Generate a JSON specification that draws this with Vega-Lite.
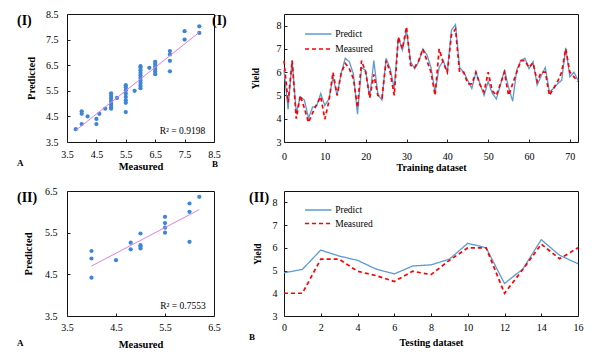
{
  "$schema": "https://vega.github.io/schema/vega-lite/v6.json",
  "padding": {"left": 16, "top": 8, "right": 5, "bottom": 5},
  "background": "white",
  "config": {
    "font": "Liberation Serif",
    "view": {"stroke": "#111", "strokeWidth": 1},
    "axis": {
      "grid": false, "domain": false, "tickSize": -3, "tickColor": "#222", "labelFlush": false, "labelOverlap": false,
      "labelFont": "Liberation Serif", "labelFontSize": 10, "labelColor": "#000",
      "titleFont": "Liberation Serif", "titleFontSize": 10.5, "titleFontWeight": "bold", "titleColor": "#000"
    },
    "title": {"font": "Liberation Serif", "fontSize": 14, "fontWeight": "bold", "color": "#000",
      "subtitleFont": "Liberation Serif", "subtitleFontSize": 9, "subtitleFontWeight": "bold", "subtitleColor": "#000",
      "anchor": "start", "frame": "group", "orient": "top"},
    "legend": {"labelFont": "Liberation Serif", "labelFontSize": 9.5, "labelColor": "#000"}
  },
  "columns": 2,
  "spacing": {"row": 49, "column": 70},
  "bounds": "flush",
  "align": "each",
  "resolve": {
    "scale": {"color": "independent", "strokeDash": "independent", "strokeWidth": "independent"},
    "legend": {"color": "independent", "strokeDash": "independent"}
  },
  "concat": [
    {
      "width": 147, "height": 128,
      "title": {"text": "(I)", "subtitle": "A", "dx": -50, "offset": -159, "subtitlePadding": 131},
      "layer": [
        {
          "data": {"name": "scatter1", "values": [
            {"measured": 3.8, "predicted": 4.0},
            {"measured": 4.0, "predicted": 4.7}, {"measured": 4.0, "predicted": 4.6}, {"measured": 4.0, "predicted": 4.2},
            {"measured": 4.2, "predicted": 4.5},
            {"measured": 4.5, "predicted": 4.4}, {"measured": 4.5, "predicted": 4.2},
            {"measured": 4.6, "predicted": 4.6},
            {"measured": 4.8, "predicted": 4.8},
            {"measured": 5.0, "predicted": 5.4}, {"measured": 5.0, "predicted": 5.3}, {"measured": 5.0, "predicted": 5.2}, {"measured": 5.0, "predicted": 5.1},
            {"measured": 5.0, "predicted": 5.0}, {"measured": 5.0, "predicted": 4.95}, {"measured": 5.0, "predicted": 4.85}, {"measured": 5.0, "predicted": 4.8},
            {"measured": 5.2, "predicted": 5.22},
            {"measured": 5.5, "predicted": 5.72}, {"measured": 5.5, "predicted": 5.63}, {"measured": 5.5, "predicted": 5.52}, {"measured": 5.5, "predicted": 5.39},
            {"measured": 5.5, "predicted": 5.26}, {"measured": 5.5, "predicted": 5.13}, {"measured": 5.5, "predicted": 5.03}, {"measured": 5.5, "predicted": 4.67},
            {"measured": 5.8, "predicted": 5.5},
            {"measured": 6.0, "predicted": 6.46}, {"measured": 6.0, "predicted": 6.4}, {"measured": 6.0, "predicted": 6.3}, {"measured": 6.0, "predicted": 6.2},
            {"measured": 6.0, "predicted": 6.1}, {"measured": 6.0, "predicted": 6.0}, {"measured": 6.0, "predicted": 5.9}, {"measured": 6.0, "predicted": 5.8},
            {"measured": 6.0, "predicted": 5.7}, {"measured": 6.0, "predicted": 5.6},
            {"measured": 6.3, "predicted": 6.4},
            {"measured": 6.5, "predicted": 6.63}, {"measured": 6.5, "predicted": 6.55}, {"measured": 6.5, "predicted": 6.45}, {"measured": 6.5, "predicted": 6.35},
            {"measured": 6.5, "predicted": 6.25}, {"measured": 6.5, "predicted": 6.15},
            {"measured": 7.0, "predicted": 7.05}, {"measured": 7.0, "predicted": 6.92}, {"measured": 7.0, "predicted": 6.67}, {"measured": 7.0, "predicted": 6.26},
            {"measured": 7.5, "predicted": 7.83}, {"measured": 7.5, "predicted": 7.5},
            {"measured": 8.0, "predicted": 8.02}, {"measured": 8.0, "predicted": 7.76}
          ]},
          "mark": {"type": "circle", "size": 18, "color": "#3b86d8", "opacity": 1},
          "encoding": {
            "x": {"field": "measured", "type": "quantitative", "scale": {"domain": [3.5, 8.5], "nice": false, "zero": false},
              "axis": {"values": [3.5, 4.5, 5.5, 6.5, 7.5, 8.5], "tickCount": 12, "format": ".1f", "title": "Measured", "labelPadding": 10, "titlePadding": 2}},
            "y": {"field": "predicted", "type": "quantitative", "scale": {"domain": [3.5, 8.5], "nice": false, "zero": false},
              "axis": {"values": [3.5, 4.5, 5.5, 6.5, 7.5, 8.5], "tickCount": 12, "format": ".1f", "title": "Predicted", "labelPadding": 12, "titlePadding": 9}}
          }
        },
        {
          "data": {"name": "scatter1"},
          "transform": [{"regression": "predicted", "on": "measured"}],
          "mark": {"type": "line", "color": "#e37ee6", "strokeWidth": 1},
          "encoding": {
            "x": {"field": "measured", "type": "quantitative"},
            "y": {"field": "predicted", "type": "quantitative"}
          }
        },
        {
          "data": {"values": [{"label": "R² = 0.9198"}]},
          "mark": {"type": "text", "align": "right", "baseline": "alphabetic", "fontSize": 9.5, "color": "#000"},
          "encoding": {"text": {"field": "label"}, "x": {"datum": 8.2}, "y": {"datum": 3.8}}
        }
      ]
    },
    {
      "width": 294, "height": 128,
      "title": {"text": "(I)", "subtitle": "B", "dx": -72, "offset": -155, "subtitlePadding": 132},
      "data": {"values": [
        {"i": 0, "Predict": 6.1, "Measured": 6.5}, {"i": 1, "Predict": 4.4, "Measured": 4.7}, {"i": 2, "Predict": 6.5, "Measured": 6.5},
        {"i": 3, "Predict": 4.25, "Measured": 4.0}, {"i": 4, "Predict": 4.95, "Measured": 5.0}, {"i": 5, "Predict": 4.8, "Measured": 4.45},
        {"i": 6, "Predict": 4.02, "Measured": 3.84}, {"i": 7, "Predict": 4.5, "Measured": 4.25}, {"i": 8, "Predict": 4.55, "Measured": 4.62},
        {"i": 9, "Predict": 5.08, "Measured": 4.95}, {"i": 10, "Predict": 4.57, "Measured": 3.98}, {"i": 11, "Predict": 4.85, "Measured": 4.75},
        {"i": 12, "Predict": 5.8, "Measured": 6.0}, {"i": 13, "Predict": 5.0, "Measured": 5.0}, {"i": 14, "Predict": 5.95, "Measured": 5.95},
        {"i": 15, "Predict": 6.6, "Measured": 6.38}, {"i": 16, "Predict": 6.45, "Measured": 6.15}, {"i": 17, "Predict": 5.92, "Measured": 5.72},
        {"i": 18, "Predict": 4.2, "Measured": 4.48}, {"i": 19, "Predict": 6.2, "Measured": 6.5}, {"i": 20, "Predict": 6.08, "Measured": 6.0},
        {"i": 21, "Predict": 4.9, "Measured": 4.9}, {"i": 22, "Predict": 6.5, "Measured": 5.9}, {"i": 23, "Predict": 5.03, "Measured": 5.0},
        {"i": 24, "Predict": 4.8, "Measured": 4.9}, {"i": 25, "Predict": 6.6, "Measured": 6.5}, {"i": 26, "Predict": 6.15, "Measured": 6.0},
        {"i": 27, "Predict": 5.3, "Measured": 5.0}, {"i": 28, "Predict": 7.5, "Measured": 7.5}, {"i": 29, "Predict": 6.95, "Measured": 7.0},
        {"i": 30, "Predict": 7.8, "Measured": 7.95}, {"i": 31, "Predict": 6.45, "Measured": 6.3}, {"i": 32, "Predict": 6.15, "Measured": 6.2},
        {"i": 33, "Predict": 6.45, "Measured": 6.5}, {"i": 34, "Predict": 7.0, "Measured": 7.0}, {"i": 35, "Predict": 6.75, "Measured": 6.5},
        {"i": 36, "Predict": 6.2, "Measured": 6.0}, {"i": 37, "Predict": 5.15, "Measured": 5.0}, {"i": 38, "Predict": 6.2, "Measured": 7.0},
        {"i": 39, "Predict": 6.5, "Measured": 6.4}, {"i": 40, "Predict": 6.0, "Measured": 6.0}, {"i": 41, "Predict": 7.8, "Measured": 7.6},
        {"i": 42, "Predict": 8.05, "Measured": 7.85}, {"i": 43, "Predict": 6.2, "Measured": 6.0}, {"i": 44, "Predict": 6.0, "Measured": 6.0},
        {"i": 45, "Predict": 5.65, "Measured": 5.5}, {"i": 46, "Predict": 5.3, "Measured": 5.5}, {"i": 47, "Predict": 6.0, "Measured": 6.0},
        {"i": 48, "Predict": 5.5, "Measured": 5.45}, {"i": 49, "Predict": 5.0, "Measured": 5.15}, {"i": 50, "Predict": 5.6, "Measured": 6.0},
        {"i": 51, "Predict": 5.1, "Measured": 5.2}, {"i": 52, "Predict": 4.85, "Measured": 5.0}, {"i": 53, "Predict": 5.45, "Measured": 5.5},
        {"i": 54, "Predict": 6.1, "Measured": 6.0}, {"i": 55, "Predict": 5.35, "Measured": 5.0}, {"i": 56, "Predict": 4.75, "Measured": 5.5},
        {"i": 57, "Predict": 6.1, "Measured": 6.0}, {"i": 58, "Predict": 6.5, "Measured": 6.5}, {"i": 59, "Predict": 6.6, "Measured": 6.5},
        {"i": 60, "Predict": 6.15, "Measured": 6.2}, {"i": 61, "Predict": 6.45, "Measured": 6.4}, {"i": 62, "Predict": 5.45, "Measured": 5.6},
        {"i": 63, "Predict": 5.85, "Measured": 6.0}, {"i": 64, "Predict": 6.2, "Measured": 6.0}, {"i": 65, "Predict": 5.15, "Measured": 5.0},
        {"i": 66, "Predict": 5.3, "Measured": 5.3}, {"i": 67, "Predict": 5.5, "Measured": 5.6}, {"i": 68, "Predict": 5.65, "Measured": 6.0},
        {"i": 69, "Predict": 7.05, "Measured": 7.0}, {"i": 70, "Predict": 5.8, "Measured": 6.0}, {"i": 71, "Predict": 6.0, "Measured": 5.8},
        {"i": 72, "Predict": 5.65, "Measured": 5.6}
      ]},
      "transform": [{"fold": ["Predict", "Measured"], "as": ["series", "value"]}],
      "mark": {"type": "line"},
      "encoding": {
        "x": {"field": "i", "type": "quantitative", "scale": {"domain": [0, 72], "nice": false, "zero": false},
          "axis": {"values": [0, 10, 20, 30, 40, 50, 60, 70], "tickCount": 12, "format": "d", "title": "Training dataset", "titleFontSize": 10, "labelPadding": 12, "titlePadding": 1}},
        "y": {"field": "value", "type": "quantitative", "scale": {"domain": [3, 8.5], "nice": false, "zero": false},
          "axis": {"values": [3, 4, 5, 6, 7, 8], "tickCount": 12, "format": "d", "title": "Yield", "titleFontSize": 9.5, "labelPadding": 6, "titlePadding": 16}},
        "color": {"field": "series", "type": "nominal", "scale": {"domain": ["Predict", "Measured"], "range": ["#5b9bd5", "#ff0000"]},
          "legend": {"orient": "none", "legendX": 27.2, "legendY": 13, "title": null, "symbolType": "M-2.2,0H2.2", "symbolSize": 144, "labelOffset": 10, "rowPadding": 3, "symbolStrokeWidth": 1.5, "padding": 0}},
        "strokeDash": {"field": "series", "type": "nominal", "scale": {"domain": ["Predict", "Measured"], "range": [[1, 0], [4, 3]]},
          "legend": {"orient": "none", "legendX": 27.2, "legendY": 13, "title": null, "symbolType": "M-2.2,0H2.2", "symbolSize": 144, "labelOffset": 10, "rowPadding": 3, "symbolStrokeWidth": 1.5, "padding": 0}},
        "strokeWidth": {"field": "series", "type": "ordinal", "scale": {"domain": ["Predict", "Measured"], "range": [1.3, 1.7]}, "legend": null}
      }
    },
    {
      "width": 147, "height": 125,
      "title": {"text": "(II)", "subtitle": "A", "dx": -50, "offset": -162, "subtitlePadding": 134},
      "layer": [
        {
          "data": {"name": "scatter2", "values": [
            {"measured": 4.0, "predicted": 5.06}, {"measured": 4.0, "predicted": 4.88}, {"measured": 4.0, "predicted": 4.42},
            {"measured": 4.5, "predicted": 4.84},
            {"measured": 4.8, "predicted": 5.26}, {"measured": 4.8, "predicted": 5.1},
            {"measured": 5.0, "predicted": 5.48}, {"measured": 5.0, "predicted": 5.2}, {"measured": 5.0, "predicted": 5.16}, {"measured": 5.0, "predicted": 5.12},
            {"measured": 5.5, "predicted": 5.88}, {"measured": 5.5, "predicted": 5.73}, {"measured": 5.5, "predicted": 5.62}, {"measured": 5.5, "predicted": 5.5},
            {"measured": 6.0, "predicted": 6.2}, {"measured": 6.0, "predicted": 6.0}, {"measured": 6.0, "predicted": 5.28},
            {"measured": 6.2, "predicted": 6.36}
          ]},
          "mark": {"type": "circle", "size": 18, "color": "#3b86d8", "opacity": 1},
          "encoding": {
            "x": {"field": "measured", "type": "quantitative", "scale": {"domain": [3.5, 6.5], "nice": false, "zero": false},
              "axis": {"values": [3.5, 4.5, 5.5, 6.5], "tickCount": 12, "format": ".1f", "title": "Measured", "labelPadding": 9, "titlePadding": 7}},
            "y": {"field": "predicted", "type": "quantitative", "scale": {"domain": [3.5, 6.5], "nice": false, "zero": false},
              "axis": {"values": [3.5, 4.5, 5.5, 6.5], "tickCount": 12, "format": ".1f", "title": "Predicted", "labelPadding": 13, "titlePadding": 11}}
          }
        },
        {
          "data": {"name": "scatter2"},
          "transform": [{"regression": "predicted", "on": "measured"}],
          "mark": {"type": "line", "color": "#e37ee6", "strokeWidth": 1},
          "encoding": {
            "x": {"field": "measured", "type": "quantitative"},
            "y": {"field": "predicted", "type": "quantitative"}
          }
        },
        {
          "data": {"values": [{"label": "R² = 0.7553"}]},
          "mark": {"type": "text", "align": "right", "baseline": "alphabetic", "fontSize": 9.5, "color": "#000"},
          "encoding": {"text": {"field": "label"}, "x": {"datum": 6.33}, "y": {"datum": 3.68}}
        }
      ]
    },
    {
      "width": 294, "height": 125,
      "title": {"text": "(II)", "subtitle": "B", "dx": -35, "offset": -151, "subtitlePadding": 128},
      "data": {"values": [
        {"i": 0, "Predict": 4.9, "Measured": 4.0}, {"i": 1, "Predict": 5.05, "Measured": 4.0}, {"i": 2, "Predict": 5.9, "Measured": 5.5},
        {"i": 3, "Predict": 5.64, "Measured": 5.5}, {"i": 4, "Predict": 5.45, "Measured": 4.97}, {"i": 5, "Predict": 5.07, "Measured": 4.78},
        {"i": 6, "Predict": 4.85, "Measured": 4.52}, {"i": 7, "Predict": 5.2, "Measured": 4.97}, {"i": 8, "Predict": 5.25, "Measured": 4.82},
        {"i": 9, "Predict": 5.5, "Measured": 5.45}, {"i": 10, "Predict": 6.2, "Measured": 6.0}, {"i": 11, "Predict": 6.0, "Measured": 6.0},
        {"i": 12, "Predict": 4.43, "Measured": 4.0}, {"i": 13, "Predict": 5.07, "Measured": 5.05}, {"i": 14, "Predict": 6.36, "Measured": 6.16},
        {"i": 15, "Predict": 5.67, "Measured": 5.52}, {"i": 16, "Predict": 5.3, "Measured": 6.0}
      ]},
      "transform": [{"fold": ["Predict", "Measured"], "as": ["series", "value"]}],
      "mark": {"type": "line"},
      "encoding": {
        "x": {"field": "i", "type": "quantitative", "scale": {"domain": [0, 16], "nice": false, "zero": false},
          "axis": {"values": [0, 2, 4, 6, 8, 10, 12, 14, 16], "tickCount": 12, "format": "d", "title": "Testing dataset", "titleFontSize": 10, "labelPadding": 9, "titlePadding": 5}},
        "y": {"field": "value", "type": "quantitative", "scale": {"domain": [3, 8.5], "nice": false, "zero": false},
          "axis": {"values": [3, 4, 5, 6, 7, 8], "tickCount": 12, "format": "d", "title": "Yield", "titleFontSize": 9.5, "labelPadding": 10, "titlePadding": 10}},
        "color": {"field": "series", "type": "nominal", "scale": {"domain": ["Predict", "Measured"], "range": ["#5b9bd5", "#ff0000"]},
          "legend": {"orient": "none", "legendX": 27.2, "legendY": 12, "title": null, "symbolType": "M-2.2,0H2.2", "symbolSize": 144, "labelOffset": 10, "rowPadding": 1.5, "symbolStrokeWidth": 1.5, "padding": 0}},
        "strokeDash": {"field": "series", "type": "nominal", "scale": {"domain": ["Predict", "Measured"], "range": [[1, 0], [4, 3]]},
          "legend": {"orient": "none", "legendX": 27.2, "legendY": 12, "title": null, "symbolType": "M-2.2,0H2.2", "symbolSize": 144, "labelOffset": 10, "rowPadding": 1.5, "symbolStrokeWidth": 1.5, "padding": 0}},
        "strokeWidth": {"field": "series", "type": "ordinal", "scale": {"domain": ["Predict", "Measured"], "range": [1.3, 1.7]}, "legend": null}
      }
    }
  ]
}
